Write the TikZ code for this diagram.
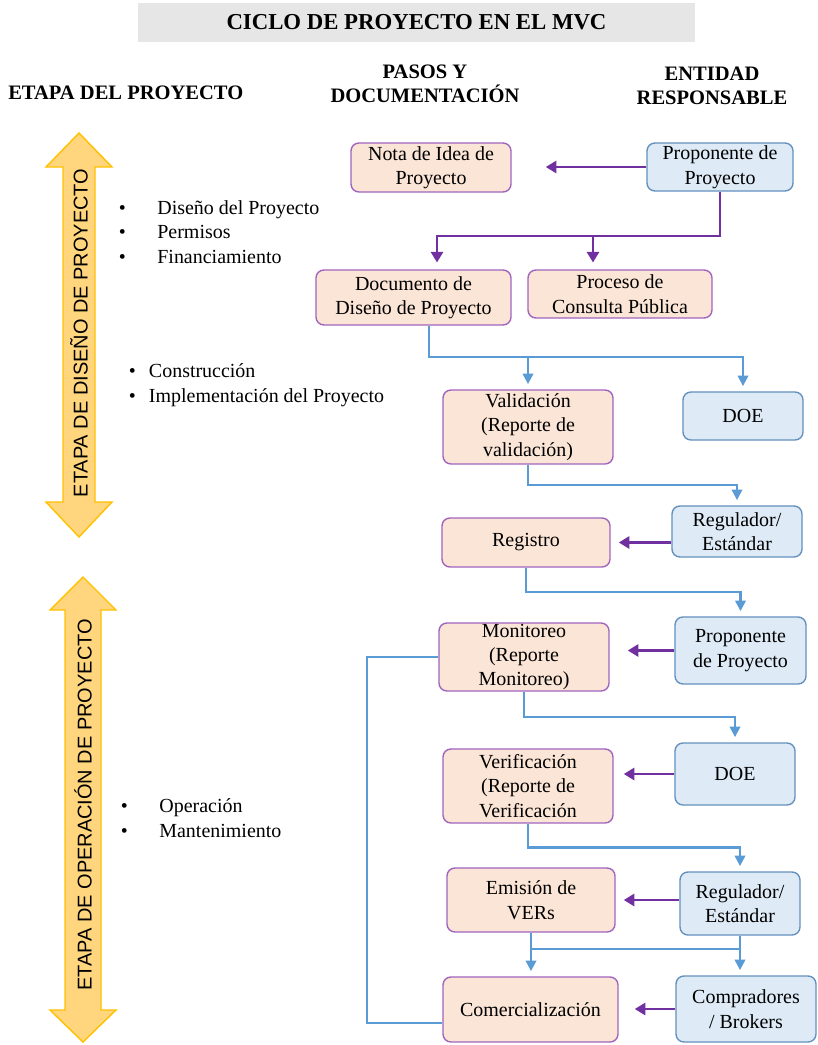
\documentclass[tikz,border=0pt]{standalone}
\usepackage{fontspec}
\setmainfont{Liberation Serif}
\newfontfamily\arialfont{Liberation Sans}
\usetikzlibrary{arrows.meta,calc}
\definecolor{pasofondo}{RGB}{251,229,214}
\definecolor{pasoborde}{RGB}{160,100,190}
\definecolor{entefondo}{RGB}{222,235,247}
\definecolor{enteborde}{RGB}{100,145,190}
\definecolor{azullinea}{RGB}{91,155,213}
\definecolor{moradolinea}{RGB}{112,48,160}
\definecolor{titulofondo}{RGB}{231,230,230}
\definecolor{flechafondo}{RGB}{255,214,125}
\definecolor{flechaborde}{RGB}{255,192,0}
\begin{document}
\begin{tikzpicture}[x=0.025cm,y=-0.025cm,font=\fontsize{14.2}{17.4}\selectfont,
	paso/.style={draw=pasoborde,fill=pasofondo,rounded corners=0.2cm,line width=1pt,align=center,inner sep=0pt},
	ente/.style={draw=enteborde,fill=entefondo,rounded corners=0.2cm,line width=1pt,align=center,inner sep=0pt},
	flecha/.style={draw=flechaborde,fill=flechafondo,line width=1pt,line join=miter},
	azul/.style={azullinea,line width=1.6pt,-{Triangle[length=7.5pt,width=7.5pt]},shorten >=0.13cm},
	morado/.style={moradolinea,line width=2pt,-{Triangle[length=7.5pt,width=8.5pt]}},
	encabezado/.style={font=\fontsize{14.6}{17.4}\selectfont\bfseries,align=center,inner sep=0pt},
	lista/.style={anchor=west,inner sep=0pt}]
		\useasboundingbox (0,0) rectangle (817,1045);
		\node[fill=titulofondo,minimum width=13.925cm,minimum height=0.975cm,inner sep=0pt,font=\fontsize{16.2}{19}\selectfont\bfseries] (titulo) at (416.5,22.5) {CICLO DE PROYECTO EN EL MVC};
		\node[encabezado,anchor=west] (etapa) at (8,93) {ETAPA DEL PROYECTO};
		\node[encabezado] (pasos) at (425,84) {PASOS Y\\DOCUMENTACIÓN};
		\node[encabezado] (entidad) at (712,86) {ENTIDAD\\RESPONSABLE};

		\draw[flecha] (79,133)--(112,167)--(95,167)--(95,502)--(112,502)--(79,537)--(46,502)--(63,502)--(63,167)--(46,167)--cycle;
		\node[rotate=90,font=\arialfont\fontsize{14.2}{17}\selectfont,inner sep=0pt] (diseno) at (79,333) {ETAPA DE DISEÑO DE PROYECTO};
		\draw[flecha] (83,577)--(116,610)--(101,610)--(101,1010)--(116,1010)--(83,1042)--(50,1010)--(65,1010)--(65,610)--(50,610)--cycle;
		\node[rotate=90,font=\arialfont\fontsize{14.2}{17}\selectfont,inner sep=0pt] (operacion) at (83,805) {ETAPA DE OPERACIÓN DE PROYECTO};

		\node[lista] (lista1) at (118.5,234) {\begin{tabular}{@{}l@{\hspace{0.79cm}}l@{}}\textbullet & Diseño del Proyecto\\ \textbullet & Permisos\\ \textbullet & Financiamiento\end{tabular}};
		\node[lista] (lista2) at (128.5,385) {\begin{tabular}{@{}l@{\hspace{0.33cm}}l@{}}\textbullet & Construcción\\ \textbullet & Implementación del Proyecto\end{tabular}};
		\node[lista] (lista3) at (120.5,820) {\begin{tabular}{@{}l@{\hspace{0.79cm}}l@{}}\textbullet & Operación\\ \textbullet & Mantenimiento\end{tabular}};

		\node[paso,minimum width=4cm,minimum height=1.225cm] (nota) at (431,167.5) {Nota de Idea de\\Proyecto};
		\node[ente,minimum width=3.65cm,minimum height=1.2cm] (prop1) at (720,167) {Proponente de\\Proyecto};
		\node[paso,minimum width=4.875cm,minimum height=1.375cm] (docu) at (413.5,297.5) {Documento de\\Diseño de Proyecto};
		\node[paso,minimum width=4.6cm,minimum height=1.2cm] (consulta) at (620,294) {Proceso de\\Consulta Pública};
		\node[paso,minimum width=4.25cm,minimum height=1.85cm] (valid) at (528,427) {Validación\\(Reporte de\\validación)};
		\node[ente,minimum width=3cm,minimum height=1.2cm] (doe1) at (743,416) {DOE};
		\node[paso,minimum width=4.2cm,minimum height=1.225cm] (regis) at (526,542.5) {Registro};
		\node[ente,minimum width=3.25cm,minimum height=1.275cm] (regul1) at (737,531.5) {Regulador/\\Estándar};
		\node[paso,minimum width=4.25cm,minimum height=1.7cm] (monit) at (524,657) {Monitoreo\\(Reporte\\Monitoreo)};
		\node[ente,minimum width=3.275cm,minimum height=1.675cm] (prop2) at (740.5,650.5) {Proponente\\de Proyecto};
		\node[paso,minimum width=4.25cm,minimum height=1.85cm] (verif) at (528,786) {Verificación\\(Reporte de\\Verificación};
		\node[ente,minimum width=3cm,minimum height=1.55cm] (doe2) at (735,774) {DOE};
		\node[paso,minimum width=4.2cm,minimum height=1.6cm] (emis) at (531,900) {Emisión de\\VERs};
		\node[ente,minimum width=3cm,minimum height=1.575cm] (regul2) at (740,903.5) {Regulador/\\Estándar};
		\node[paso,minimum width=4.375cm,minimum height=1.625cm] (comer) at (530.5,1009.5) {Comercialización};
		\node[ente,minimum width=3.5cm,minimum height=1.65cm] (compr) at (746,1009) {Compradores\\/ Brokers};

		\coordinate (rama) at (437,236);
		\coordinate (rama2) at (593,236);
		\draw[morado,shorten >=0.85cm] (prop1.west) -- (nota.east |- prop1.west);
		\draw[morado,shorten >=0.17cm] (prop1.south) |- (rama) -- (rama |- docu.north);
		\draw[morado,shorten >=0.17cm] (rama2) -- (rama2 |- consulta.north);

		\coordinate (dv) at (429,357);
		\draw[azul] (docu.south -| dv) |- (dv) -| (doe1.north);
		\draw[azul] (valid.north |- dv) -- (valid.north);
		\draw[azul] (valid.south) |- ($(valid.south)!.5!(regul1.north)$) -| (regul1.north);
		\draw[morado,shorten >=0.2cm] (regul1.west |- regis) -- (regis.east);
		\draw[azul] (regis.south) |- ($(regis.south)!.5!(prop2.north)$) -| (prop2.north);
		\draw[morado,shorten >=0.45cm] (prop2.west) -- (monit.east |- prop2.west);
		\draw[azul] (monit.south) |- ($(monit.south)!.5!(doe2.north)$) -| (doe2.north);
		\draw[morado,shorten >=0.25cm] (doe2.west) -- (verif.east |- doe2.west);
		\draw[azul] (verif.south) |- ($(verif.south)!.5!(regul2.north)$) -| (regul2.north);
		\draw[morado,shorten >=0.2cm] (regul2.west |- emis) -- (emis.east);

		\coordinate (cruce) at (0,949);
		\draw[azul] (emis.south) -- (emis.south |- comer.north);
		\draw[azul] (regul2.south) -- (regul2.south |- compr.north);
		\draw[azullinea,line width=1.6pt] (emis.south |- cruce) -- (regul2.south |- cruce);
		\draw[morado,shorten >=0.4cm] (compr.west) -- (comer.east |- compr.west);

		\coordinate (lazo) at (367,0);
		\draw[azullinea,line width=1.6pt] (monit.west) -- (monit.west -| lazo) |- ($(comer.west)!0.4!(comer.south west)$);
	    \end{tikzpicture}
\end{document}
